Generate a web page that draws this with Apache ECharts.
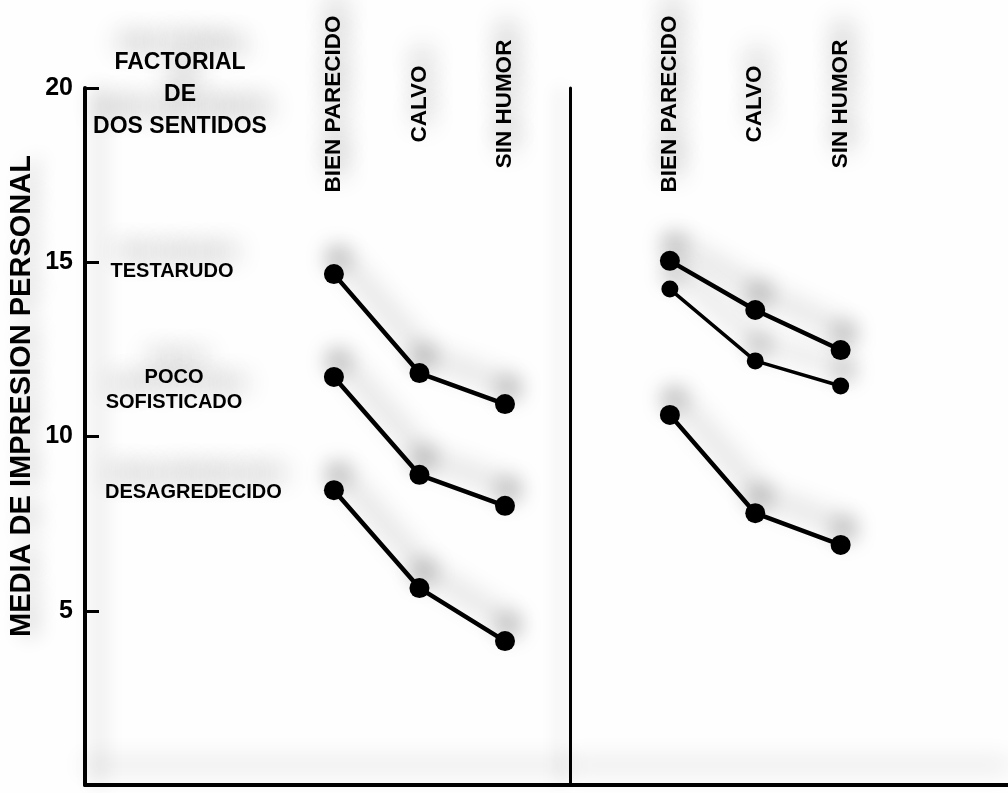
<!DOCTYPE html>
<html><head><meta charset="utf-8">
<script src="https://cdn.jsdelivr.net/npm/echarts@6/dist/echarts.min.js"></script>
<style>html,body{margin:0;padding:0;background:#fff}#c{width:1008px;height:793px}</style>
</head><body><div id="c"></div><script>
// ---- data ----
const columns = ['BIEN PARECIDO', 'CALVO', 'SIN HUMOR'];
const traitNames = ['TESTARUDO', 'POCO\nSOFISTICADO', 'DESAGREDECIDO'];
const leftTestarudo = [14.66, 11.82, 10.93];
const leftPocoSofisticado = [11.71, 8.90, 8.01];
const leftDesagradecido = [8.46, 5.65, 4.13];
const rightTestarudo = [15.04, 13.63, 12.48];
const rightPocoSofisticado = [14.23, 12.17, 11.45];
const rightDesagradecido = [10.62, 7.80, 6.89];
const yMin = 0, yMax = 20, yStep = 5;
const titleLines = ['FACTORIAL', 'DE', 'DOS SENTIDOS'];
const yAxisTitle = 'MEDIA DE IMPRESION PERSONAL';

// ---- styling ----
const FONT = "'Liberation Sans', Arial, sans-serif";
const SH = { textShadowColor: 'rgba(0,0,0,0.45)', textShadowBlur: 26, textShadowOffsetY: -18, textShadowOffsetX: 4 };

const chart = echarts.init(document.getElementById('c'), null, { renderer: 'canvas' });

const leftRange = { min: -2.91, max: 2.76 };
const rightRange = { min: -1.17, max: 3.96 };

function bottomX(grid, r, w) {
  return { gridIndex: grid, type: 'value', min: r.min, max: r.max, position: 'bottom',
    axisLine: { show: true, onZero: false, lineStyle: { color: '#000', width: w,
      shadowColor: 'rgba(0,0,0,0.3)', shadowBlur: 24, shadowOffsetY: -20 } },
    axisTick: { show: false }, axisLabel: { show: false }, splitLine: { show: false } };
}
function topX(grid, r) {
  return { gridIndex: grid, type: 'value', min: r.min, max: r.max, position: 'top',
    axisLine: { show: false, onZero: false }, axisTick: { show: false }, splitLine: { show: false },
    axisLabel: { show: true, customValues: [0, 1, 2], formatter: v => columns[Math.round(v)],
      rotate: -90, align: 'center', verticalAlign: 'middle', margin: -16,
      fontFamily: FONT, fontWeight: 'bold', fontSize: 22.5, color: '#000', ...SH } };
}
function mkSeries(name, values, grid, lw, ss) {
  return { name, type: 'line', xAxisIndex: grid * 2, yAxisIndex: grid,
    data: values.map((v, i) => [i, v]), symbol: 'circle', symbolSize: ss,
    lineStyle: { color: '#000', width: lw, shadowColor: 'rgba(0,0,0,0.45)', shadowBlur: 26, shadowOffsetY: -18, shadowOffsetX: 6 },
    itemStyle: { color: '#000', borderWidth: 0, shadowColor: 'rgba(0,0,0,0.4)', shadowBlur: 22, shadowOffsetY: -16, shadowOffsetX: 4 },
    emphasis: { disabled: true }, animation: false, z: 5 };
}

const option = {
  backgroundColor: '#fefefe',
  animation: false,
  grid: [
    { left: 85, right: 438, top: 88, bottom: 8 },
    { left: 570, right: 0, top: 88, bottom: 8 }
  ],
  xAxis: [bottomX(0, leftRange, 4), topX(0, leftRange), bottomX(1, rightRange, 4), topX(1, rightRange)],
  yAxis: [
    { gridIndex: 0, type: 'value', min: yMin, max: yMax, interval: yStep, position: 'left',
      axisLine: { show: true, onZero: false, lineStyle: { color: '#000', width: 4, shadowColor: 'rgba(0,0,0,0.25)', shadowBlur: 20, shadowOffsetX: 14 } },
      axisTick: { show: true, inside: true, length: 14, lineStyle: { color: '#000', width: 3 } },
      axisLabel: { formatter: v => (v === yMin ? '' : String(v)), margin: 12, fontFamily: FONT, fontWeight: 'bold', fontSize: 25, color: '#000' },
      splitLine: { show: false } },
    { gridIndex: 1, type: 'value', min: yMin, max: yMax, interval: yStep, position: 'left',
      axisLine: { show: true, onZero: false, lineStyle: { color: '#000', width: 3, shadowColor: 'rgba(0,0,0,0.2)', shadowBlur: 18, shadowOffsetX: -10 } },
      axisTick: { show: false }, axisLabel: { show: false }, splitLine: { show: false } }
  ],
  series: [
    mkSeries(traitNames[0], leftTestarudo, 0, 4.5, 20),
    mkSeries(traitNames[1], leftPocoSofisticado, 0, 4.5, 20),
    mkSeries(traitNames[2], leftDesagradecido, 0, 4.5, 20),
    mkSeries(traitNames[0], rightTestarudo, 1, 4.5, 20),
    mkSeries(traitNames[1], rightPocoSofisticado, 1, 3.5, 17),
    mkSeries(traitNames[2], rightDesagradecido, 1, 4.5, 20)
  ],
  graphic: [
    { type: 'text', x: 180, y: 95, z: 10, style: { text: titleLines.join('\n'), fill: '#000', font: 'bold 23px ' + FONT, lineHeight: 32, textAlign: 'center', textVerticalAlign: 'middle', ...SH } },
    { type: 'text', x: 172, y: 271, z: 10, style: { text: traitNames[0], fill: '#000', font: 'bold 20px ' + FONT, textAlign: 'center', textVerticalAlign: 'middle', ...SH } },
    { type: 'text', x: 174, y: 390, z: 10, style: { text: traitNames[1], fill: '#000', font: 'bold 20px ' + FONT, lineHeight: 25, textAlign: 'center', textVerticalAlign: 'middle', ...SH } },
    { type: 'text', x: 105, y: 492, z: 10, style: { text: traitNames[2], fill: '#000', font: 'bold 20px ' + FONT, textAlign: 'left', textVerticalAlign: 'middle', ...SH } },
    { type: 'text', x: 22, y: 396, rotation: Math.PI / 2, z: 10, style: { text: yAxisTitle, fill: '#000', font: 'bold 29px ' + FONT, textAlign: 'center', textVerticalAlign: 'middle', textShadowColor: 'rgba(0,0,0,0.2)', textShadowBlur: 20, textShadowOffsetX: 10 } }
  ]
};
chart.setOption(option);
</script></body></html>
